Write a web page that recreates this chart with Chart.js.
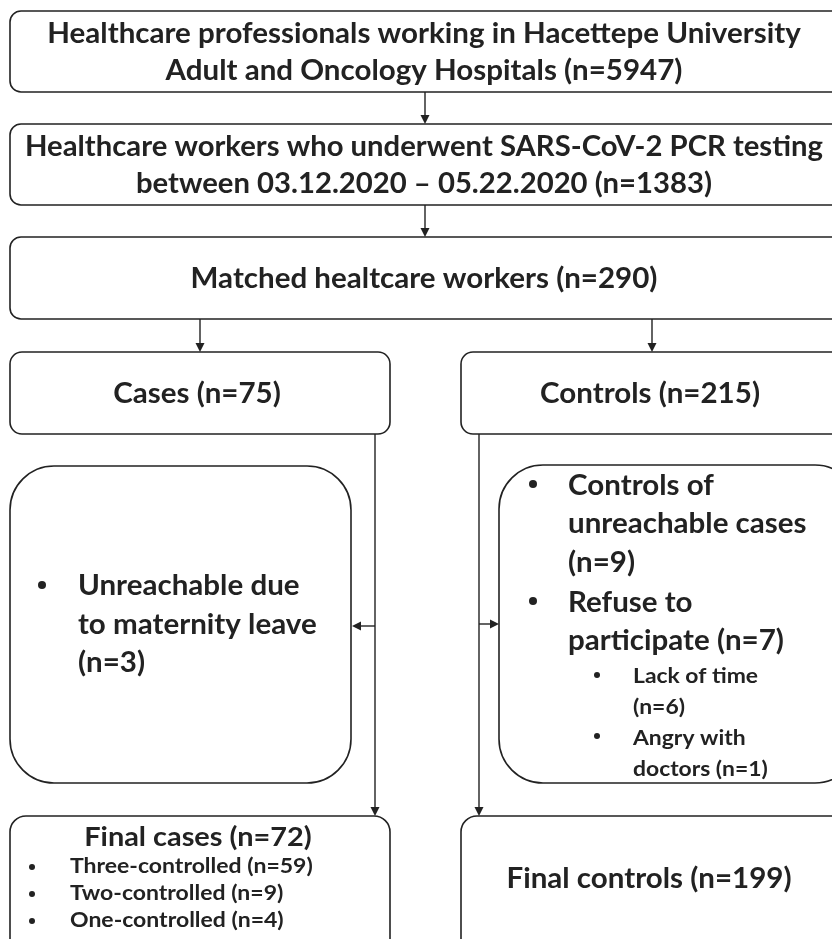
<!DOCTYPE html>
<html>
<head>
<meta charset="utf-8">
<script src="https://cdn.jsdelivr.net/npm/chart.js@4.4.1/dist/chart.umd.min.js"></script>
<style>
  html, body { margin: 0; padding: 0; background: #fff; }
  #wrap { width: 832px; height: 939px; }
</style>
</head>
<body>
<div id="wrap"><canvas id="flow" width="832" height="939"></canvas></div>
<script>
// flow counts
const stageLines = [
    ['Healthcare professionals working in Hacettepe University', 'Adult and Oncology Hospitals'],
    ['Healthcare workers who underwent SARS-CoV-2 PCR testing', 'between 03.12.2020 \u2013 05.22.2020'],
    ['Matched healtcare workers']
];
const stageCounts = [5947, 1383, 290];
const groupNames = ['Cases', 'Controls'];
const groupCounts = [75, 215];
const caseExclusion = ['Unreachable due', 'to maternity leave'];
const caseExclusionCount = 3;
const controlExclusion = [['Controls of', 'unreachable cases'], ['Refuse to', 'participate']];
const controlExclusionCounts = [9, 7];
const refuseReasons = [['Lack of time'], ['Angry with', 'doctors']];
const refuseCounts = [6, 1];
const finalNames = ['Final cases', 'Final controls'];
const finalCounts = [72, 199];
const controlledLabels = ['Three-controlled', 'Two-controlled', 'One-controlled'];
const controlledCounts = [59, 9, 4];

const n = v => '(n=' + v + ')';
const FONT = 'Lato, "Open Sans", sans-serif';
const INK = '#222';

// box layout in axis units (axes run 0..832 and 0..939)
const boxes = [
    { x: 10, y: 11, w: 840, h: 81, r: 11 },
    { x: 10, y: 124, w: 840, h: 81, r: 11 },
    { x: 10, y: 237, w: 840, h: 82, r: 11 },
    { x: 10, y: 352, w: 380, h: 82, r: 12 },
    { x: 461, y: 352, w: 400, h: 82, r: 12 },
    { x: 10, y: 466, w: 341, h: 317, r: 44 },
    { x: 499, y: 465, w: 360, h: 318, r: 44 },
    { x: 10, y: 816, w: 380, h: 140, r: 16 },
    { x: 461, y: 816, w: 400, h: 140, r: 16 }
];
const links = [
    [425, 92, 425, 124], [425, 205, 425, 237],
    [200, 319, 200, 352], [652, 319, 652, 352],
    [375, 434, 375, 816], [479, 434, 479, 816],
    [375, 626, 352, 626], [479, 624, 499, 624]
];

const flowPlugin = {
    id: 'flow',
    afterDraw(chart) {
        const { ctx, scales } = chart;
        const px = v => scales.x.getPixelForValue(v);
        const py = v => scales.y.getPixelForValue(v);
        ctx.save();
        ctx.strokeStyle = INK;
        ctx.fillStyle = INK;
        ctx.lineWidth = 1.6;

        boxes.forEach(b => {
            const x0 = px(b.x), y0 = py(b.y), x1 = px(b.x + b.w), y1 = py(b.y + b.h);
            ctx.beginPath();
            ctx.roundRect(x0, y0, x1 - x0, y1 - y0, b.r);
            ctx.stroke();
        });

        ctx.lineWidth = 1.4;
        links.forEach(([ax, ay, bx, by]) => {
            const x0 = px(ax), y0 = py(ay), x1 = px(bx), y1 = py(by);
            const ang = Math.atan2(y1 - y0, x1 - x0);
            ctx.beginPath();
            ctx.moveTo(x0, y0);
            ctx.lineTo(x1 - 7 * Math.cos(ang), y1 - 7 * Math.sin(ang));
            ctx.stroke();
            ctx.beginPath();
            ctx.moveTo(x1, y1);
            ctx.lineTo(x1 - 9 * Math.cos(ang) + 4.5 * Math.sin(ang), y1 - 9 * Math.sin(ang) - 4.5 * Math.cos(ang));
            ctx.lineTo(x1 - 9 * Math.cos(ang) - 4.5 * Math.sin(ang), y1 - 9 * Math.sin(ang) + 4.5 * Math.cos(ang));
            ctx.closePath();
            ctx.fill();
        });

        // Lato is a bit narrower than the original face, so stretch it sideways
        const text = (s, x, y, size, align, sx) => {
            ctx.save();
            ctx.font = 'bold ' + size + 'px ' + FONT;
            ctx.textAlign = align || 'left';
            ctx.textBaseline = 'alphabetic';
            ctx.translate(px(x), py(y));
            ctx.scale(sx || 1.055, 1);
            ctx.fillText(s, 0, 0);
            ctx.restore();
        };
        const dot = (x, y, r) => {
            ctx.beginPath();
            ctx.arc(px(x), py(y), r, 0, Math.PI * 2);
            ctx.fill();
        };

        // top stages
        text(stageLines[0][0], 424, 43, 28, 'center');
        text(stageLines[0][1] + ' ' + n(stageCounts[0]), 424, 80, 28, 'center');
        text(stageLines[1][0], 424, 156, 28, 'center', 1.045);
        text(stageLines[1][1] + ' ' + n(stageCounts[1]), 424, 193, 28, 'center', 1.045);
        text(stageLines[2][0] + ' ' + n(stageCounts[2]), 424, 288, 28, 'center');

        // groups
        text(groupNames[0] + ' ' + n(groupCounts[0]), 197, 403, 28, 'center');
        text(groupNames[1] + ' ' + n(groupCounts[1]), 650, 403, 28, 'center');

        // case exclusion
        dot(42, 585, 4);
        text(caseExclusion[0], 78, 595, 28);
        text(caseExclusion[1], 78, 634, 28);
        text(n(caseExclusionCount), 78, 672, 28);

        // control exclusions
        dot(533, 484, 4);
        text(controlExclusion[0][0], 568, 495, 28);
        text(controlExclusion[0][1], 568, 533, 28);
        text(n(controlExclusionCounts[0]), 568, 572, 28);
        dot(533, 601, 4);
        text(controlExclusion[1][0], 568, 612, 28);
        text(controlExclusion[1][1] + ' ' + n(controlExclusionCounts[1]), 568, 650, 28);
        dot(597, 675, 3);
        text(refuseReasons[0][0], 633, 683, 21, 'left', 1.09);
        text(n(refuseCounts[0]), 633, 714, 21, 'left', 1.09);
        dot(597, 736, 3);
        text(refuseReasons[1][0], 633, 745, 21, 'left', 1.09);
        text(refuseReasons[1][1] + ' ' + n(refuseCounts[1]), 633, 776, 21, 'left', 1.09);

        // finals
        text(finalNames[0] + ' ' + n(finalCounts[0]), 198, 846, 27, 'center', 1.07);
        controlledLabels.forEach((lab, i) => {
            const y = 873 + i * 27;
            dot(32, y - 6, 3);
            text(lab + ' ' + n(controlledCounts[i]), 70, y, 20, 'left', 1.15);
        });
        text(finalNames[1] + ' ' + n(finalCounts[1]), 649, 888, 28, 'center');

        ctx.restore();
    }
};

new Chart(document.getElementById('flow'), {
    type: 'scatter',
    data: { datasets: [{ data: [], pointRadius: 0 }] },
    options: {
        responsive: false,
        animation: false,
        layout: { padding: 0 },
        plugins: { legend: { display: false }, tooltip: { enabled: false } },
        scales: {
            x: { type: 'linear', min: 0, max: 832, display: false },
            y: { type: 'linear', min: 0, max: 939, reverse: true, display: false }
        }
    },
    plugins: [flowPlugin]
});
</script>
</body>
</html>
